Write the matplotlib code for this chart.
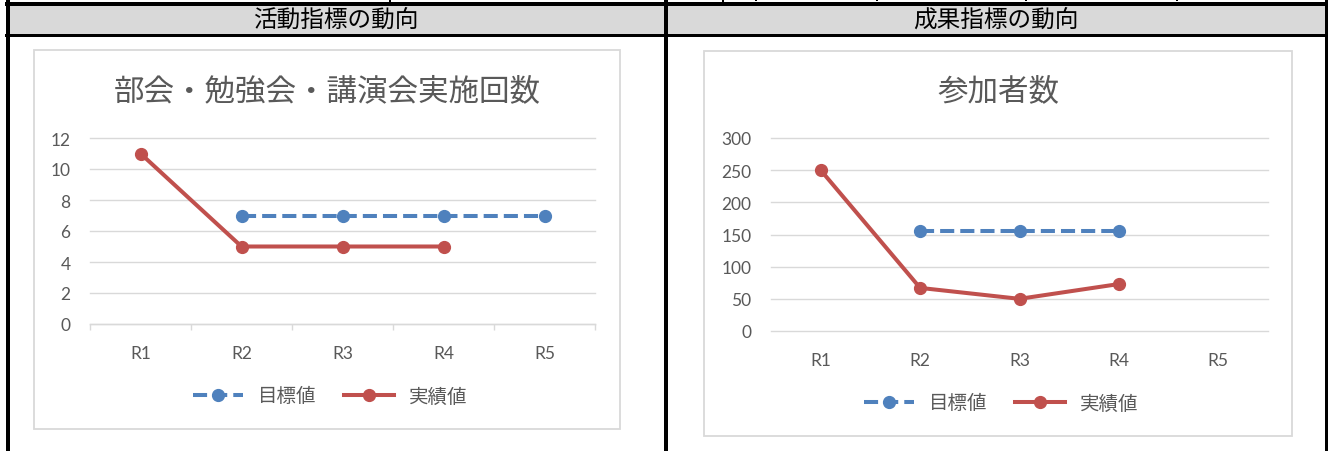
import numpy as np
import matplotlib
matplotlib.use('Agg')
import matplotlib.pyplot as plt
from matplotlib.patches import Rectangle

plt.rcParams['font.family'] = ['Noto Sans CJK JP', 'DejaVu Sans']

W, H = 1328, 452

# ---------------- data ----------------
categories = ['R1', 'R2', 'R3', 'R4', 'R5']
headers = ['活動指標の動向', '成果指標の動向']
series_names = ['目標値', '実績値']

left_title = '部会・勉強会・講演会実施回数'
left_target = [None, 7, 7, 7, 7]
left_actual = [11, 5, 5, 5, None]
left_yticks = [0, 2, 4, 6, 8, 10, 12]

right_title = '参加者数'
right_target = [None, 155, 155, 155, None]
right_actual = [250, 67, 50, 73, None]
right_yticks = [0, 50, 100, 150, 200, 250, 300]

BLUE = '#4F81BD'
RED = '#C0504D'
GRID = '#D9D9D9'
TXT = '#595959'

fig = plt.figure(figsize=(W / 100, H / 100), dpi=100)
fig.patch.set_facecolor('white')


def frect(x0, y0, x1, y1, color, z=1):
    fig.add_artist(Rectangle((x0 / W, 1 - y1 / H), (x1 - x0) / W, (y1 - y0) / H,
                             transform=fig.transFigure, facecolor=color,
                             edgecolor='none', linewidth=0, zorder=z))


# ---------------- table frame ----------------
frect(9, 7.3, 1325, 35, '#D9D9D9')
frect(5, 3.3, 1328, 7.3, 'black', 2)
frect(5, 35, 1328, 38.3, 'black', 2)
frect(5.5, 0, 9.5, H, 'black', 2)
frect(664, 0, 667.5, H, 'black', 2)
frect(1324.5, 0, 1328, H, 'black', 2)
frect(389, 0, 391, 3.3, 'black', 2)
frect(722, 0, 724, 3.3, 'black', 2)
for tx in [756, 877, 1026, 1177]:
    frect(tx - 1, 0, tx + 1, 2, 'black', 2)

fig.text(337 / W, 1 - 21.5 / H, headers[0], ha='center', va='center',
         fontsize=17, color='black')
fig.text(996 / W, 1 - 21.5 / H, headers[1], ha='center', va='center',
         fontsize=17, color='black')

# chart boxes
for (x0, y0, x1, y1) in [(34, 51, 620, 430), (704, 52, 1292, 437)]:
    fig.add_artist(Rectangle((x0 / W, 1 - y1 / H), (x1 - x0) / W, (y1 - y0) / H,
                             transform=fig.transFigure, facecolor='none',
                             edgecolor=GRID, linewidth=1.3, zorder=1))


def make_chart(px, target, actual, yticks, title, title_xy, legend_xy, boundary_ticks):
    x0, y0, x1, y1 = px
    ax = fig.add_axes([x0 / W, 1 - y1 / H, (x1 - x0) / W, (y1 - y0) / H])
    ax.set_facecolor('none')
    x = np.arange(len(categories))
    t = np.array(target, dtype=float)
    a = np.array(actual, dtype=float)
    ax.plot(x, t, color=BLUE, lw=2.9, dashes=(3.5, 1.5), marker='o', ms=8.5,
            markeredgecolor=BLUE, label=series_names[0], zorder=3)
    ax.plot(x, a, color=RED, lw=2.9, marker='o', ms=8.5,
            markeredgecolor=RED, label=series_names[1], zorder=4)
    ax.set_xlim(-0.5, len(categories) - 0.5)
    ax.set_ylim(yticks[0], yticks[-1])
    ax.set_yticks(yticks)
    ax.yaxis.grid(True, color=GRID, lw=1.0)
    for gl in ax.get_ygridlines():
        gl.set_clip_on(False)
    ax.set_axisbelow(True)
    for s in ax.spines.values():
        s.set_visible(False)
    ax.set_xticks(x)
    ax.set_xticklabels(categories)
    ax.tick_params(axis='y', length=0, pad=14, labelsize=12.5,
                   labelcolor=TXT, labelfontfamily='Lato')
    ax.tick_params(axis='x', which='major', length=0, pad=15, labelsize=12.5,
                   labelcolor=TXT, labelfontfamily='Lato')
    if boundary_ticks:
        ax.spines['bottom'].set_visible(True)
        ax.spines['bottom'].set_color(GRID)
        ax.spines['bottom'].set_linewidth(1.0)
        ax.set_xticks(np.arange(-0.5, len(categories), 1.0), minor=True)
        ax.tick_params(axis='x', which='minor', length=4.5, width=1.0,
                       color=GRID, direction='out')
    fig.text(title_xy[0] / W, 1 - title_xy[1] / H, title, ha='center',
             va='center', fontsize=22, color=TXT)
    ax.legend(loc='center', bbox_to_anchor=(legend_xy[0] / W, 1 - legend_xy[1] / H),
              bbox_transform=fig.transFigure, ncol=2, frameon=False,
              handlelength=2.6, handletextpad=0.75, columnspacing=1.4,
              prop={'family': ['Noto Sans CJK JP', 'DejaVu Sans'], 'size': 14},
              labelcolor=TXT)
    return ax


make_chart((90, 139, 595, 325), left_target, left_actual, left_yticks,
           left_title, (327, 92), (330, 397), True)
make_chart((771, 139, 1268, 332), right_target, right_actual, right_yticks,
           right_title, (998, 92), (1001, 404), False)

fig.savefig('out.png', dpi=100)
